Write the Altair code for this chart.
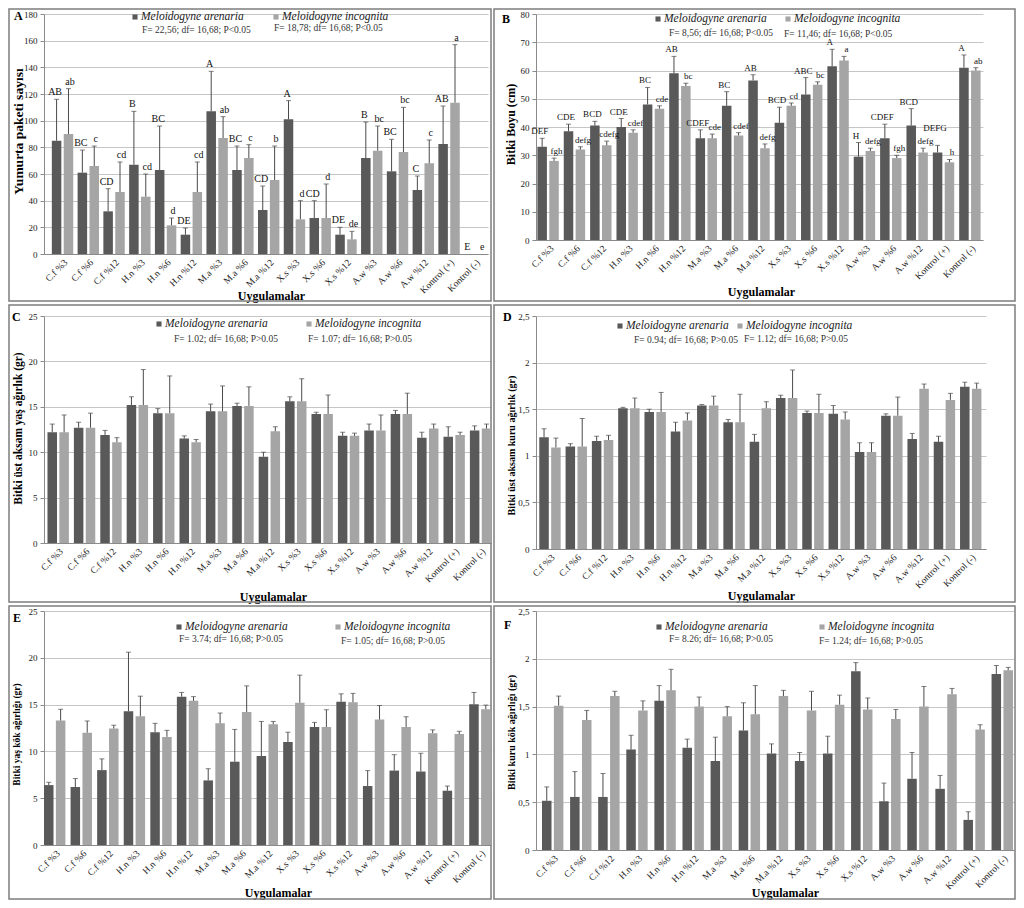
import altair as alt
import pandas as pd

SERIF = "Liberation Serif"
SPECIES = ["Meloidogyne arenaria", "Meloidogyne incognita"]
BAR_COLORS = ["#595959", "#a5a5a5"]
ERR_COLOR = "#4a4a4a"

categories = ["C.f %3", "C.f %6", "C.f %12", "H.n %3", "H.n %6", "H.n %12",
              "M.a %3", "M.a %6", "M.a %12", "X.s %3", "X.s %6", "X.s %12",
              "A.w %3", "A.w %6", "A.w %12", "Kontrol (+)", "Kontrol (-)"]

# Panel A - Yumurta paketi sayısı
a_are = [85, 61, 32, 67, 63, 14.5, 107, 63, 33, 101, 27, 14.5, 72, 62, 48, 82.5, 0]
a_are_err = [116, 78, 49, 107, 96, 19.5, 137, 81, 51, 115, 40, 20, 99, 86, 58.5, 111, 0]
a_inc = [90, 66, 46.5, 43, 21.5, 46.5, 87, 72, 55.5, 26, 27, 11, 77.5, 76.5, 68, 113.5, 0]
a_inc_err = [124, 81, 69, 60, 27, 69, 103, 82, 81, 40, 52.5, 17, 96, 110, 85.5, 157, 0]
a_are_let = ["AB", "BC", "CD", "B", "BC", "DE", "A", "BC", "CD", "A", "CD", "DE", "B", "BC", "C", "AB", "E"]
a_inc_let = ["ab", "c", "cd", "cd", "d", "cd", "ab", "c", "b", "d", "d", "de", "bc", "bc", "c", "a", "e"]

# Panel B - Bitki Boyu (cm)
b_are = [33, 38.5, 40.5, 40, 48, 59, 36, 47.5, 56.5, 41.5, 51.5, 61.5, 29.5, 36, 40.5, 31, 61]
b_are_err = [36, 41, 42, 43, 54, 65, 39, 52.5, 58.5, 47, 57.5, 67.5, 34.5, 41, 46.5, 33.5, 65.5]
b_inc = [28, 32, 33.5, 38, 46.5, 54.5, 36, 37, 32.5, 47.5, 55, 63.5, 31.5, 29, 31, 27.5, 60]
b_inc_err = [29, 33, 35, 39, 47.5, 55.5, 37.5, 38, 34, 48.5, 56, 65, 32.5, 30, 32.5, 28.5, 61]
b_are_let = ["DEF", "CDE", "BCD", "CDE", "BC", "AB", "CDEF", "BC", "AB", "BCD", "ABC", "A", "H", "CDEF", "BCD", "DEFG", "A"]
b_inc_let = ["fgh", "defg", "cdefg", "cdef", "cde", "bc", "cde", "cdef", "defg", "cd", "bc", "a", "defg", "fgh", "defg", "h", "ab"]
# letter raised above its error bar in the original
b_are_letter_at = {"Kontrol (+)": 37}

# Panel C - Bitki üst aksam yaş ağırlık (gr)
c_are = [12.2, 12.7, 11.9, 15.2, 14.3, 11.5, 14.5, 15.1, 9.5, 15.6, 14.2, 11.8, 12.4, 14.2, 11.6, 11.7, 12.4]
c_are_err = [13.1, 13.3, 12.4, 16.1, 14.8, 11.8, 15.3, 15.4, 10.0, 16.1, 14.4, 12.2, 13.1, 14.6, 12.2, 12.8, 12.9]
c_inc = [12.2, 12.7, 11.1, 15.2, 14.3, 11.1, 14.5, 15.1, 12.3, 15.6, 14.2, 11.8, 12.4, 14.2, 12.6, 11.9, 12.6]
c_inc_err = [14.1, 14.3, 11.6, 19.1, 18.4, 11.4, 17.3, 17.2, 12.8, 18.1, 16.3, 12.1, 14.1, 16.5, 13.1, 12.2, 13.1]

# Panel D - Bitki üst aksam kuru ağırlık (gr)
d_are = [1.20, 1.10, 1.16, 1.51, 1.47, 1.26, 1.54, 1.36, 1.15, 1.62, 1.46, 1.45, 1.04, 1.43, 1.18, 1.15, 1.74]
d_are_err = [1.29, 1.13, 1.21, 1.52, 1.50, 1.36, 1.55, 1.39, 1.23, 1.65, 1.48, 1.54, 1.14, 1.45, 1.24, 1.21, 1.79]
d_inc = [1.09, 1.10, 1.17, 1.51, 1.47, 1.38, 1.54, 1.36, 1.51, 1.62, 1.46, 1.39, 1.04, 1.43, 1.72, 1.60, 1.72]
d_inc_err = [1.19, 1.40, 1.22, 1.62, 1.68, 1.46, 1.64, 1.66, 1.58, 1.92, 1.66, 1.47, 1.14, 1.63, 1.77, 1.67, 1.78]

# Panel E - Bitki yaş kök ağırlığı (gr)
e_are = [6.4, 6.2, 8.0, 14.3, 12.05, 15.85, 6.9, 8.9, 9.5, 11.0, 12.6, 15.3, 6.3, 7.95, 7.85, 5.8, 15.05]
e_are_err = [6.7, 7.1, 9.2, 20.6, 13.0, 16.3, 8.15, 12.35, 13.2, 12.05, 13.1, 16.15, 7.95, 9.65, 9.8, 6.3, 16.3]
e_inc = [13.3, 12.0, 12.45, 13.75, 11.55, 15.4, 13.0, 14.2, 12.9, 15.2, 12.6, 15.25, 13.4, 12.6, 11.95, 11.85, 14.5]
e_inc_err = [14.5, 13.25, 12.8, 15.9, 12.25, 15.85, 14.1, 17.0, 13.2, 18.15, 14.45, 16.2, 14.9, 13.7, 12.3, 12.15, 14.95]

# Panel F - Bitki kuru kök ağırlığı (gr)
f_are = [0.515, 0.555, 0.555, 1.05, 1.56, 1.07, 0.93, 1.25, 1.01, 0.93, 1.01, 1.87, 0.51, 0.745, 0.64, 0.315, 1.84]
f_are_err = [0.66, 0.82, 0.80, 1.20, 1.72, 1.16, 1.18, 1.54, 1.11, 1.02, 1.19, 1.96, 0.70, 1.02, 0.78, 0.40, 1.93]
f_inc = [1.51, 1.36, 1.61, 1.46, 1.67, 1.50, 1.40, 1.42, 1.61, 1.46, 1.52, 1.47, 1.37, 1.50, 1.63, 1.26, 1.88]
f_inc_err = [1.61, 1.46, 1.66, 1.56, 1.89, 1.60, 1.50, 1.72, 1.67, 1.66, 1.62, 1.59, 1.47, 1.71, 1.69, 1.31, 1.91]


def build_df(are, are_err, inc, inc_err, are_let=None, inc_let=None, are_at=None, inc_at=None):
    rows = []
    for i, cat in enumerate(categories):
        for sp, v, e, lets, at in ((SPECIES[0], are[i], are_err[i], are_let, are_at or {}),
                                   (SPECIES[1], inc[i], inc_err[i], inc_let, inc_at or {})):
            rows.append({"cat": cat, "sp": sp, "value": v,
                         "err": e if e > v else None,
                         "top": at.get(cat, max(v, e)),
                         "letter": lets[i] if lets else ""})
    return pd.DataFrame(rows)


DUMMY = pd.DataFrame({"d": [0]})


def panel(df, p):
    L, T, W, H = p["L"], p["T"], p["W"], p["H"]
    n = int(round(p["ymax"] / p["ystep"]))
    yvals = [round(i * p["ystep"], 3) for i in range(n + 1)]
    yaxis_kw = dict(title=p["ytitle"], values=yvals, titleFontSize=p["yts"],
                    titleFontWeight="bold", titleX=p["ytp"][0] - L, titleY=p["ytp"][1] - T,
                    titleAlign="center", titleBaseline="middle", titleAngle=270)
    if p["dec"]:
        yaxis_kw["labelExpr"] = "replace(format(datum.value, '~g'), '.', ',')"
    yaxis = alt.Axis(**yaxis_kw)
    yscale = alt.Scale(domain=[0, p["ymax"]], nice=False)
    xaxis = alt.Axis(title="Uygulamalar", labelAngle=-45, titleFontSize=12,
                     titleFontWeight="bold", titleX=p["xtp"][0] - L,
                     titleY=p["xtp"][1] - (T + H), titleAlign="center",
                     titleBaseline="middle", ticks=False, grid=False)
    xscale = alt.Scale(paddingInner=p["pi"], paddingOuter=p["po"], align=p["al"])
    X = alt.X("cat:N", sort=categories, scale=xscale, axis=xaxis)
    XO = alt.XOffset("sp:N", sort=SPECIES, scale=alt.Scale(domain=SPECIES, paddingInner=0.2))

    base = alt.Chart(df)
    bars = base.mark_bar().encode(
        x=X, xOffset=XO,
        y=alt.Y("value:Q", scale=yscale, axis=yaxis),
        color=alt.Color("sp:N", scale=alt.Scale(domain=SPECIES, range=BAR_COLORS), legend=None),
    )
    eb = base.transform_filter("isValid(datum.err)")
    rules = eb.mark_rule(color=ERR_COLOR, strokeWidth=1).encode(
        x=X, xOffset=XO, y=alt.Y("value:Q", scale=yscale, axis=yaxis), y2="err:Q")
    caps = eb.mark_tick(color=ERR_COLOR, thickness=1, size=5).encode(
        x=X, xOffset=XO, y=alt.Y("err:Q", scale=yscale, axis=yaxis))
    layers = [bars, rules, caps]
    if p["letters"]:
        for sp, dx in ((SPECIES[0], -p["ldx"]), (SPECIES[1], p["ldx"])):
            texts = base.transform_filter(alt.datum.sp == sp).mark_text(
                font=SERIF, fontSize=p["lfs"], baseline="bottom", dy=-2, dx=dx, color="#111").encode(
                x=X, xOffset=XO, y=alt.Y("top:Q", scale=yscale, axis=yaxis), text="letter:N")
            layers.append(texts)

    fx1, fy1, fx2, fy2 = p["frame"]
    frame = alt.Chart(DUMMY).mark_rect(fillOpacity=0, stroke="#7d7d7d", strokeWidth=1.5).encode(
        x=alt.value(fx1 - L), x2=alt.value(fx2 - L), y=alt.value(fy1 - T), y2=alt.value(fy2 - T))
    tag = alt.Chart(DUMMY).mark_text(text=p["key"], font=SERIF, fontWeight="bold", fontSize=12,
                                     align="left", baseline="middle", color="#000").encode(
        x=alt.value(p["tag"][0] - L), y=alt.value(p["tag"][1] - T))
    deco = [tag]
    for (sx, sy, tx, ty), sp, col in zip(p["leg"], SPECIES, BAR_COLORS):
        deco.append(alt.Chart(DUMMY).mark_square(size=26, color=col, opacity=1).encode(
            x=alt.value(sx - L), y=alt.value(sy - T)))
        deco.append(alt.Chart(DUMMY).mark_text(text=sp, font=SERIF, fontStyle="italic", fontSize=11.5,
                                               align="left", baseline="middle", color="#222").encode(
            x=alt.value(tx - L), y=alt.value(ty - T)))
    for txt, tx, ty in p["ftxt"]:
        deco.append(alt.Chart(DUMMY).mark_text(text=txt, font=SERIF, fontSize=9.5,
                                               align="left", baseline="middle", color="#333").encode(
            x=alt.value(tx - L), y=alt.value(ty - T)))
    return alt.layer(frame, *layers, *deco).properties(width=W, height=H)


P = {
    "A": dict(key="A", L=43, T=13, W=444, H=240, ymax=180, ystep=20, ytitle="Yumurta paketi sayısı",
              yts=13.5, ytp=(17, 130), xtp=(270, 294), frame=(8, 8, 490, 300), tag=(13, 15),
              pi=0.17, po=0.2, al=0.76, dec=False, letters=True, lfs=10, ldx=1.5,
              leg=[(134, 16, 140, 16), (275, 16, 281, 16)],
              ftxt=[("F= 22,56; df= 16,68; P<0.05", 141, 29), ("F= 18,78; df= 16,68; P<0.05", 273, 27)]),
    "B": dict(key="B", L=535, T=13, W=447, H=226, ymax=80, ystep=10, ytitle="Bitki Boyu (cm)",
              yts=12, ytp=(509, 123), xtp=(760, 290), frame=(493, 8, 1014, 300), tag=(501, 18),
              pi=0.15, po=0.053, al=0.5, dec=False, letters=True, lfs=9, ldx=2.5,
              leg=[(657, 18, 663, 18), (787, 18, 793, 18)],
              ftxt=[("F= 8,56; df= 16,68; P<0.05", 668, 32), ("F= 11,46; df= 16,68; P<0.05", 783, 33)]),
    "C": dict(key="C", L=43, T=315, W=447, H=227, ymax=25, ystep=5, ytitle="Bitki üst aksam yaş ağırlık (gr)",
              yts=11.5, ytp=(17, 427), xtp=(272, 595), frame=(8, 304, 490, 601), tag=(11, 316),
              pi=0.2, po=0.066, al=1.0, dec=False, letters=False,
              leg=[(158, 323, 164, 323), (308, 323, 314, 323)],
              ftxt=[("F= 1.02; df= 16,68; P>0.05", 173, 338), ("F= 1.07; df= 16,68; P>0.05", 307, 338)]),
    "D": dict(key="D", L=535, T=315, W=450, H=233, ymax=2.5, ystep=0.5, ytitle="Bitki üst aksam kuru ağırlık (gr)",
              yts=10, ytp=(510, 444), xtp=(760, 594), frame=(493, 304, 1014, 601), tag=(502, 316),
              pi=0.2, po=0.156, al=0.4, dec=True, letters=False,
              leg=[(619, 325, 625, 325), (739, 325, 745, 325)],
              ftxt=[("F= 0.94; df= 16,68; P>0.05", 633, 339), ("F= 1.12; df= 16,68; P>0.05", 743, 338)]),
    "E": dict(key="E", L=43, T=610, W=447, H=234, ymax=25, ystep=5, ytitle="Bitki yaş kök ağırlığı (gr)",
              yts=9.5, ytp=(15, 733), xtp=(277, 891), frame=(8, 605, 490, 898), tag=(12, 617),
              pi=0.18, po=0.0, al=0.5, dec=False, letters=False,
              leg=[(178, 626, 184, 626), (337, 626, 343, 626)],
              ftxt=[("F= 3.74; df= 16,68; P>0.05", 178, 638), ("F= 1.05; df= 16,68; P>0.05", 340, 640)]),
    "F": dict(key="F", L=535, T=610, W=478, H=239, ymax=2.5, ystep=0.5, ytitle="Bitki kuru kök ağırlığı (gr)",
              yts=10, ytp=(510, 731), xtp=(784, 891), frame=(493, 605, 1014, 898), tag=(503, 624),
              pi=0.22, po=0.116, al=0.92, dec=True, letters=False,
              leg=[(658, 626, 664, 626), (821, 626, 827, 626)],
              ftxt=[("F= 8.26; df= 16,68; P>0.05", 668, 638), ("F= 1.24; df= 16,68; P>0.05", 818, 640)]),
}

dfs = {
    "A": build_df(a_are, a_are_err, a_inc, a_inc_err, a_are_let, a_inc_let),
    "B": build_df(b_are, b_are_err, b_inc, b_inc_err, b_are_let, b_inc_let, are_at=b_are_letter_at),
    "C": build_df(c_are, c_are_err, c_inc, c_inc_err),
    "D": build_df(d_are, d_are_err, d_inc, d_inc_err),
    "E": build_df(e_are, e_are_err, e_inc, e_inc_err),
    "F": build_df(f_are, f_are_err, f_inc, f_inc_err),
}

panels = [panel(dfs[k], P[k]) for k in ["A", "B", "C", "D", "E", "F"]]

chart = alt.concat(
    *panels, columns=2, spacing={"row": 62, "column": 45}, bounds="flush", align="each"
).properties(padding=0).configure_view(stroke=None).configure_axis(
    labelFont=SERIF, titleFont=SERIF, labelColor="#1a1a1a", titleColor="#000",
    labelFontSize=9, domainColor="#8a8a8a", tickColor="#8a8a8a", gridColor="#c6c6c6",
    domainWidth=1, gridWidth=1,
).configure_axisY(tickSize=4, labelPadding=3).configure_axisX(labelPadding=3, labelFontSize=9.5)

chart.save("out.html", embed_options={"renderer": "svg", "actions": False})
